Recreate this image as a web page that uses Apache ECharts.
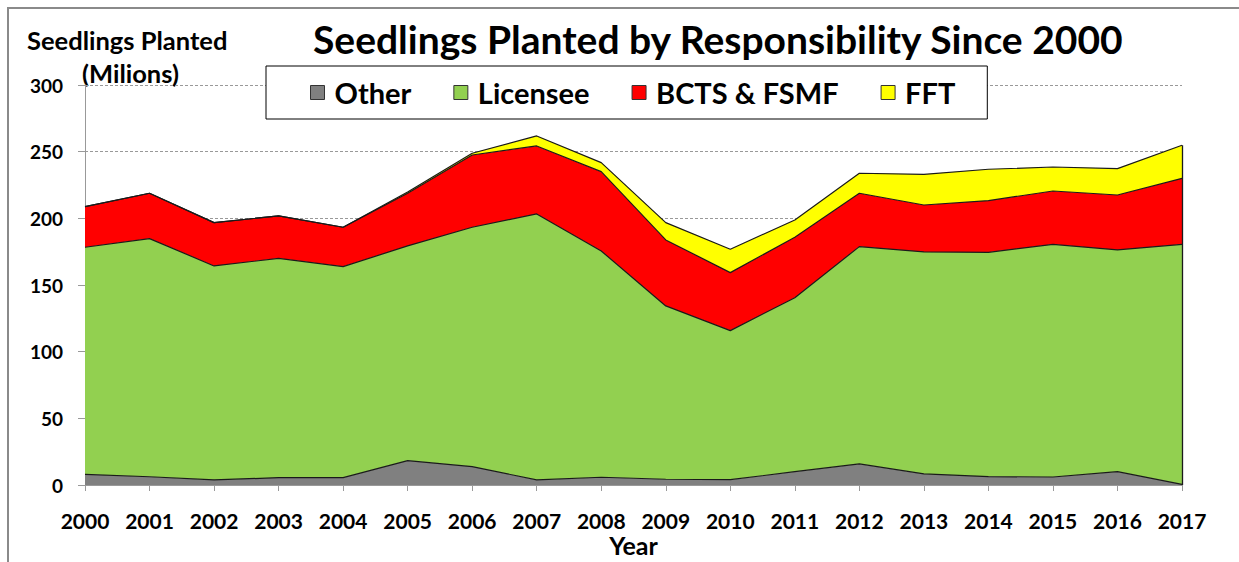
<!DOCTYPE html>
<html>
<head>
<meta charset="utf-8">
<script src="https://cdn.jsdelivr.net/npm/echarts@6/dist/echarts.min.js"></script>
<style>
html,body{margin:0;padding:0;background:#fff;}
#chart{width:1239px;height:562px;}
</style>
</head>
<body>
<div id="chart"></div>
<script>
var years = ['2000','2001','2002','2003','2004','2005','2006','2007','2008','2009','2010','2011','2012','2013','2014','2015','2016','2017'];
var other    = [8, 6.2, 3.8, 5.5, 5.5, 18.3, 13.8, 3.8, 5.8, 4.3, 4, 10, 15.8, 8.3, 6.3, 6, 10, 0.5];
var licensee = [170.3, 178.6, 160.5, 164.5, 158.3, 161, 179.5, 199.5, 169.7, 130, 111.8, 130.5, 163, 166.5, 168.2, 174.5, 166.3, 180];
var bcts     = [30.5, 34, 32.5, 31.8, 29.5, 39.5, 54.2, 51, 59.5, 49.5, 43.5, 45.3, 40, 35.2, 38.8, 40, 41.2, 49.5];
var fft      = [0, 0, 0, 0, 0, 1, 1.3, 7.5, 6.8, 13, 17.5, 13, 15, 23, 23.5, 18, 19.8, 24.8];
var seriesNames = ['Other', 'Licensee', 'BCTS & FSMF', 'FFT'];
var seriesColors = ['#808080', '#92D050', '#FF0000', '#FFFF00'];
var yTicks = [0, 50, 100, 150, 200, 250, 300];

var FONT = 'Lato';
var chart = echarts.init(document.getElementById('chart'), null, {renderer: 'svg'});
var dataSets = [other, licensee, bcts, fft];
var last = years.length - 1;
var lastTotal = other[last] + licensee[last] + bcts[last] + fft[last];
var series = dataSets.map(function (d, i) {
  var s = {
    name: seriesNames[i],
    type: 'line',
    stack: 'total',
    data: d,
    symbol: 'none',
    smooth: false,
    lineStyle: {color: '#1a1a1a', width: 1.2},
    areaStyle: {color: seriesColors[i], opacity: 1},
    itemStyle: {color: seriesColors[i], borderColor: '#333', borderWidth: 1},
    emphasis: {disabled: true}
  };
  if (i === dataSets.length - 1) {
    s.markLine = {
      silent: true,
      symbol: 'none',
      label: {show: false},
      lineStyle: {color: '#1a1a1a', width: 1.3, type: 'solid'},
      data: [[{coord: [years[last], 0]}, {coord: [years[last], lastTotal]}]]
    };
  }
  return s;
});
chart.setOption({
  animation: false,
  backgroundColor: '#fff',
  title: {
    text: 'Seedlings Planted by Responsibility Since 2000',
    left: 313,
    top: 19,
    padding: 0,
    textStyle: {fontFamily: FONT, fontWeight: 'bold', fontSize: 39, color: '#000'}
  },
  graphic: [
    {type: 'rect', shape: {x: 8, y: 8, width: 1300, height: 700}, style: {fill: 'none', stroke: '#8a8a8a', lineWidth: 2}, silent: true, z: -1},
    {type: 'text', left: 27, top: 27, style: {text: 'Seedlings Planted', fontFamily: FONT, fontWeight: 'bold', fontSize: 25.5, fill: '#000'}},
    {type: 'text', left: 82, top: 60, style: {text: '(Milions)', fontFamily: FONT, fontWeight: 'bold', fontSize: 25.5, fill: '#000'}}
  ],
  legend: {
    data: seriesNames,
    left: 266,
    top: 66,
    orient: 'horizontal',
    icon: 'rect',
    itemWidth: 14,
    itemHeight: 14,
    itemGap: 42,
    padding: [12, 32, 12, 44],
    backgroundColor: '#fff',
    borderColor: '#000',
    borderWidth: 1,
    selectedMode: false,
    itemStyle: {borderColor: '#333', borderWidth: 1},
    textStyle: {fontFamily: FONT, fontWeight: 'bold', fontSize: 29, color: '#000', padding: [0, 0, 0, 5]}
  },
  grid: {left: 85, right: 57, top: 85, bottom: 77, containLabel: false, outerBoundsMode: 'none'},
  xAxis: {
    type: 'category',
    data: years,
    boundaryGap: false,
    name: 'Year',
    nameLocation: 'middle',
    nameGap: 60,
    nameMoveOverlap: false,
    nameTextStyle: {fontFamily: FONT, fontWeight: 'bold', fontSize: 25, color: '#000', verticalAlign: 'middle'},
    axisLine: {lineStyle: {color: '#999', width: 1}},
    axisTick: {show: true, length: 6, lineStyle: {color: '#999'}},
    axisLabel: {fontFamily: FONT, fontWeight: 'bold', fontSize: 21, color: '#000', margin: 25, interval: 0},
    splitLine: {show: false}
  },
  yAxis: {
    type: 'value',
    min: 0,
    max: 300,
    interval: 50,
    axisLine: {show: true, lineStyle: {color: '#999', width: 1}},
    axisTick: {show: true, length: 7, lineStyle: {color: '#999'}},
    axisLabel: {fontFamily: FONT, fontWeight: 'bold', fontSize: 19, color: '#000', margin: 22,
      formatter: function (v) { return yTicks.indexOf(v) >= 0 ? String(v) : ''; }},
    splitLine: {show: true, lineStyle: {color: '#999', type: [3, 2], width: 1}}
  },
  series: series
});
</script>
</body>
</html>
